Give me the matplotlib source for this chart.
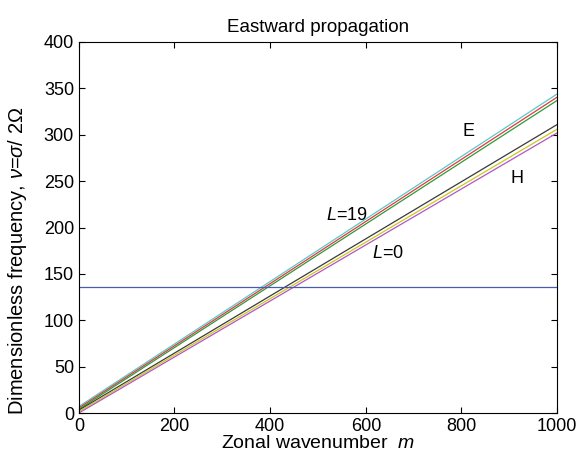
import numpy as np
import matplotlib
matplotlib.use("Agg")
import matplotlib.pyplot as plt

# ------------------------------------------------------------
# Datos
# ------------------------------------------------------------
m_ends = [0, 1000]

# rama E (L = 19 ...)
e_cyan = [7, 344]
e_red = [5.5, 340.5]
e_green = [4, 337]

# rama H (L = 0 ...)
h_black = [3, 311]
h_yellow = [1.5, 306]
h_magenta = [0, 302]

nu_level = 136

series = [
    (e_cyan, "#5cc8cc"),
    (e_red, "#e03a3a"),
    (e_green, "#2f9a3c"),
    (h_black, "#3a3a3a"),
    (h_yellow, "#c8c81e"),
    (h_magenta, "#b455c4"),
]

plt.rcParams["font.family"] = ["Liberation Sans", "DejaVu Sans"]
plt.rcParams["mathtext.fontset"] = "custom"
plt.rcParams["mathtext.it"] = "Liberation Sans:italic"
plt.rcParams["mathtext.rm"] = "Liberation Sans"

fig = plt.figure(figsize=(5.84, 4.55), dpi=100)
ax = fig.add_axes([0.135, 0.0923, 0.819, 0.8154])

for vals, col in series:
    ax.plot(m_ends, vals, color=col, lw=0.9)

ax.axhline(nu_level, color="#4a5ab4", lw=0.9)

ax.text(814, 304, "E", fontsize=13, ha="center", va="center")
ax.text(916, 253, "H", fontsize=13, ha="center", va="center")
ax.text(561, 213, r"$L$=19", fontsize=13, ha="center", va="center")
ax.text(646, 172, r"$L$=0", fontsize=13, ha="center", va="center")

ax.set_xlim(0, 1000)
ax.set_ylim(0, 400)
ax.set_xticks(range(0, 1001, 200))
ax.set_yticks(range(0, 401, 50))
ax.tick_params(direction="in", top=True, right=True, labelsize=13, length=4)

ax.set_title("Eastward propagation", fontsize=13.5, pad=7)
ax.set_xlabel(r"Zonal wavenumber  $m$", fontsize=14, labelpad=0)
ax.set_ylabel(r"Dimensionless frequency, $\nu$=$\sigma$/ 2$\mathit{Ω}$", fontsize=14.5, labelpad=4)
ax.yaxis.set_label_coords(-0.105, 0.41)

fig.savefig("out.png", dpi=100)
